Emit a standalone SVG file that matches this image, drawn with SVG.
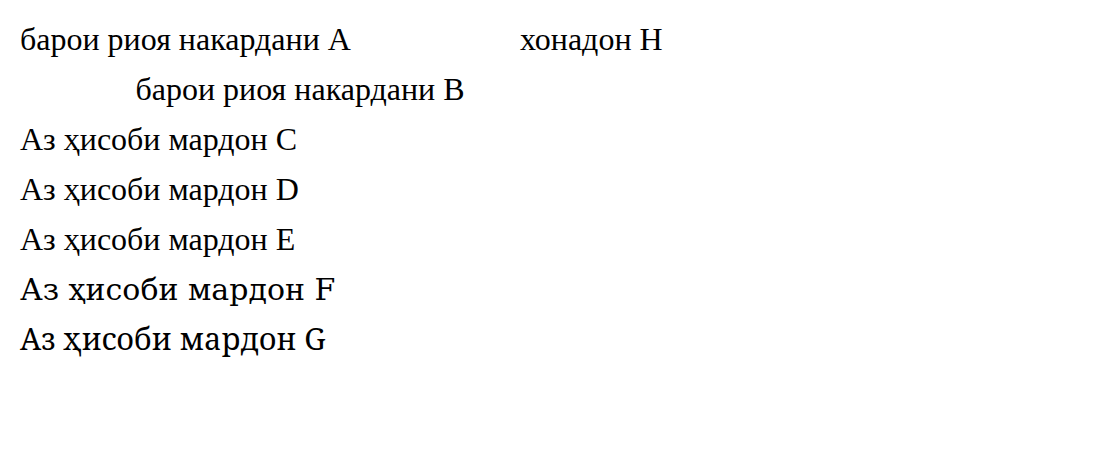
<svg xmlns="http://www.w3.org/2000/svg" width="1094" height="459" viewBox="0 0 1094 459">
<rect width="1094" height="459" fill="#FFFFFF"/>
<text x="20" y="50" font-family="Liberation Serif" font-size="32">барои риоя накардани A</text>
<text x="300" y="100" font-family="Liberation Serif" font-size="32" text-anchor="middle">барои риоя накардани B</text>
<text x="20" y="150" font-family="Liberation Serif" font-size="32">Аз ҳисоби мардон C</text>
<text x="20" y="200" font-family="Times New Roman" font-size="32">Аз ҳисоби мардон D</text>
<text x="20" y="250" font-family="Tinos, Liberation Serif, serif" font-size="32">Аз ҳисоби мардон E</text>
<text x="20" y="300" font-family="DejaVu Serif" font-size="30">Аз ҳисоби мардон F</text>
<text x="20" y="350" font-family="Noto Serif" font-size="30">Аз ҳисоби мардон G</text>
<text x="520" y="50" font-family="Liberation Serif" font-size="32" font-weight="400">хонадон H</text>
</svg>
